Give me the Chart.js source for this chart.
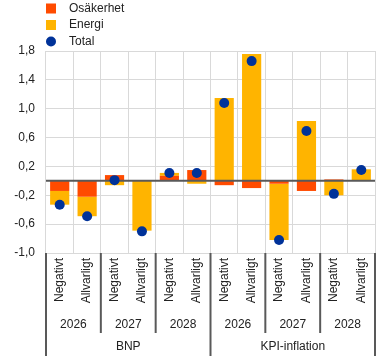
<!DOCTYPE html>
<html>
<head>
<meta charset="utf-8">
<script src="https://cdn.jsdelivr.net/npm/chart.js@4"></script>
<style>
  body { margin: 0; background: #fff; }
  #wrap { width: 384px; height: 356px; position: relative; }
</style>
</head>
<body>
<div id="wrap"><canvas id="grafico"></canvas></div>
<script>
// --- Datos ---
const categorias = ["Negativt", "Allvarligt", "Negativt", "Allvarligt", "Negativt", "Allvarligt",
                    "Negativt", "Allvarligt", "Negativt", "Allvarligt", "Negativt", "Allvarligt"];
const anios = ["2026", "2027", "2028", "2026", "2027", "2028"];
const grupos = ["BNP", "KPI-inflation"];

const osakerhet = [-0.14, -0.22, 0.08, 0, 0.07, 0.15, -0.06, -0.10, -0.04, -0.14, 0.02, 0];
const energi = [-0.19, -0.27, -0.06, -0.69, 0.04, -0.04, 1.15, 1.76, -0.78, 0.83, -0.20, 0.16];
const total = [-0.33, -0.49, 0.01, -0.70, 0.11, 0.11, 1.08, 1.66, -0.82, 0.69, -0.18, 0.15];

const yMin = -1.0, yMax = 1.8, yPaso = 0.4;

const NARANJA = "#ff4b00";
const AMARILLO = "#ffb400";
const AZUL = "#003299";
const GRIS_OSCURO = "#595959";

Chart.defaults.font.family = 'Arial, "Liberation Sans", sans-serif';
Chart.defaults.font.size = 12;
Chart.defaults.color = "#222";

// linea del cero, justo antes de dibujar los puntos
const lineaCero = {
  id: "lineaCero",
  beforeDatasetDraw(chart, args) {
    if (args.index !== 2) return;
    const { ctx, chartArea, scales } = chart;
    const y0 = scales.y.getPixelForValue(0);
    ctx.save();
    ctx.strokeStyle = GRIS_OSCURO;
    ctx.lineWidth = 2;
    ctx.beginPath();
    ctx.moveTo(chartArea.left, y0);
    ctx.lineTo(chartArea.right, y0);
    ctx.stroke();
    ctx.restore();
  }
};

// leyenda vertical arriba a la izquierda
const leyenda = {
  id: "leyenda",
  afterDraw(chart) {
    const { ctx, chartArea } = chart;
    ctx.save();
    ctx.font = '12px Arial, "Liberation Sans", sans-serif';
    ctx.textBaseline = "middle";
    ctx.textAlign = "left";
    chart.data.datasets.forEach((ds, i) => {
      const yc = 8.5 + i * 16.5;
      const xb = chartArea.left;
      if (ds.type === "line") {
        ctx.fillStyle = ds.backgroundColor;
        ctx.beginPath();
        ctx.arc(xb + 5, yc, 5, 0, Math.PI * 2);
        ctx.fill();
      } else {
        ctx.fillStyle = ds.backgroundColor;
        ctx.fillRect(xb, yc - 5, 10, 10);
      }
      ctx.fillStyle = "#222";
      ctx.fillText(ds.label, xb + 23, yc);
    });
    ctx.restore();
  }
};

// etiquetas de varios niveles en el eje x
const ejeMultinivel = {
  id: "ejeMultinivel",
  afterDraw(chart) {
    const { ctx, chartArea, scales } = chart;
    const x = scales.x;
    const mitad = (x.getPixelForValue(1) - x.getPixelForValue(0)) / 2;
    const borde = i => x.getPixelForValue(i) - mitad;
    const base = chartArea.bottom;
    const fondo = chart.height;

    ctx.save();
    ctx.strokeStyle = GRIS_OSCURO;
    ctx.lineWidth = 2;
    for (let i = 0; i <= categorias.length; i += 2) {
      const largo = (i % 6 === 0) ? fondo : base + 80;
      const px = borde(i);
      ctx.beginPath();
      ctx.moveTo(px, base);
      ctx.lineTo(px, largo);
      ctx.stroke();
    }

    ctx.fillStyle = "#222";
    ctx.font = '12px Arial, "Liberation Sans", sans-serif';
    ctx.textAlign = "center";
    ctx.textBaseline = "middle";
    anios.forEach((a, j) => {
      const xc = (borde(j * 2) + borde(j * 2 + 2)) / 2;
      ctx.fillText(a, xc, base + 72);
    });
    grupos.forEach((g, j) => {
      const xc = (borde(j * 6) + borde(j * 6 + 6)) / 2;
      ctx.fillText(g, xc, base + 94);
    });
    ctx.restore();
  }
};

const ctx = document.getElementById("grafico").getContext("2d");
new Chart(ctx, {
  type: "bar",
  data: {
    labels: categorias,
    datasets: [
      {
        label: "Osäkerhet",
        data: osakerhet,
        backgroundColor: NARANJA,
        order: 1
      },
      {
        label: "Energi",
        data: energi,
        backgroundColor: AMARILLO,
        order: 1
      },
      {
        label: "Total",
        type: "line",
        data: total,
        stack: "total",
        showLine: false,
        backgroundColor: AZUL,
        borderColor: AZUL,
        pointRadius: 5,
        pointHoverRadius: 5,
        pointBorderWidth: 0,
        order: 0
      }
    ]
  },
  options: {
    responsive: true,
    maintainAspectRatio: false,
    animation: false,
    devicePixelRatio: 1,
    datasets: { bar: { barPercentage: 0.7, categoryPercentage: 1 } },
    layout: { padding: { top: 51, right: 9, left: 0, bottom: 0 } },
    plugins: {
      legend: { display: false },
      tooltip: { enabled: false }
    },
    scales: {
      x: {
        stacked: true,
        grid: { color: "#d9d9d9", drawTicks: false, offset: true },
        border: { display: false },
        ticks: { maxRotation: 90, minRotation: 90, padding: 5, color: "#222", autoSkip: false },
        afterFit(scale) { scale.height = 103; }
      },
      y: {
        stacked: true,
        min: yMin,
        max: yMax,
        grid: { color: "#d9d9d9", drawTicks: false },
        border: { display: false },
        ticks: {
          stepSize: yPaso,
          padding: 11,
          color: "#222",
          callback: v => v.toFixed(1).replace(".", ",")
        },
        afterFit(scale) { scale.width = 46; }
      }
    }
  },
  plugins: [lineaCero, leyenda, ejeMultinivel]
});
</script>
</body>
</html>
